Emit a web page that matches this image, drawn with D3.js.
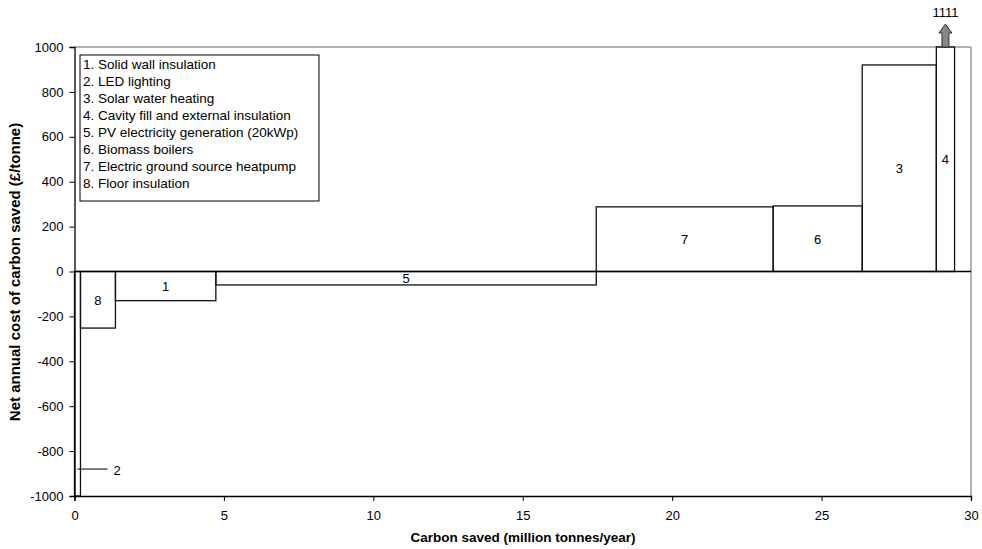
<!DOCTYPE html>
<html><head><meta charset="utf-8">
<script src="https://cdn.jsdelivr.net/npm/d3@7"></script>
<style>body{margin:0;background:#fff;} svg{display:block;font-family:"Liberation Sans",Arial,sans-serif;}</style>
</head><body>
<svg id="c" width="982" height="549"></svg>
<script>
// Measures in order along the x axis
const labels = ["2", "8", "1", "5", "7", "6", "3", "4"];
const widths = [0.2, 1.17, 3.36, 12.73, 5.92, 2.98, 2.48, 0.61]; // million tonnes/year
const costs = [-1000, -252, -130, -60, 288, 292, 920, 1111];     // £/tonne
const legendItems = [
  "1. Solid wall insulation",
  "2. LED lighting",
  "3. Solar water heating",
  "4. Cavity fill and external insulation",
  "5. PV electricity generation (20kWp)",
  "6. Biomass boilers",
  "7. Electric ground source heatpump",
  "8. Floor insulation"
];
const xTicks = [0, 5, 10, 15, 20, 25, 30];
const yTicks = [-1000, -800, -600, -400, -200, 0, 200, 400, 600, 800, 1000];
const label2Y = -880;

const svg = d3.select("#c");
const L = 74.5, R = 971, T = 47, B = 496;
const x = d3.scaleLinear().domain([0, 30]).range([L, R]);
const y = d3.scaleLinear().domain([-1000, 1000]).range([B, T]);

// Plot border (top and right, grey)
svg.append("line").attr("x1", L).attr("x2", R).attr("y1", T).attr("y2", T).attr("stroke", "#999").attr("stroke-width", 1.5);
svg.append("line").attr("x1", R).attr("x2", R).attr("y1", T).attr("y2", B).attr("stroke", "#999").attr("stroke-width", 1.5);

// Bars
let cum = 0;
const bars = labels.map((l, i) => { const b = {label: l, x0: cum, x1: cum + widths[i], v: costs[i]}; cum += widths[i]; return b; });
const clip = v => Math.max(-1000, Math.min(1000, v));
const g = svg.append("g");
bars.forEach(b => {
  const yTop = y(Math.max(0, clip(b.v))), yBot = y(Math.min(0, clip(b.v)));
  g.append("rect").attr("x", x(b.x0)).attr("y", yTop).attr("width", x(b.x1) - x(b.x0)).attr("height", yBot - yTop)
    .attr("fill", "none").attr("stroke", "#111").attr("stroke-width", 1.3);
  if (b.label !== "2") {
    g.append("text").attr("x", (x(b.x0) + x(b.x1)) / 2).attr("y", (yTop + yBot) / 2 + 5)
      .attr("text-anchor", "middle").attr("font-size", 13).text(b.label);
  }
});

// Zero line
svg.append("line").attr("x1", L).attr("x2", R).attr("y1", y(0)).attr("y2", y(0)).attr("stroke", "#000").attr("stroke-width", 1.3);

// Label for 2 with leader
const b2 = bars[0];
svg.append("line").attr("x1", x(b2.x0) + 3).attr("x2", x(b2.x0) + 33).attr("y1", y(label2Y)).attr("y2", y(label2Y)).attr("stroke", "#000").attr("stroke-width", 1);
svg.append("text").attr("x", x(b2.x0) + 39).attr("y", y(label2Y) + 6).attr("font-size", 13).text("2");

// Arrow for bar 4 (off scale)
const b4 = bars[7];
const ax = (x(b4.x0) + x(b4.x1)) / 2;
svg.append("path").attr("d", `M${ax-3.5},${T} L${ax-3.5},${T-14} L${ax-6.5},${T-14} L${ax},${T-23} L${ax+6.5},${T-14} L${ax+3.5},${T-14} L${ax+3.5},${T} Z`)
  .attr("fill", "#888").attr("stroke", "#333").attr("stroke-width", 1);
svg.append("text").attr("x", ax).attr("y", 17).attr("text-anchor", "middle").attr("font-size", 13).text(String(b4.v));

// Axes
const fmt = d => String(d);
const xAxis = svg.append("g").attr("transform", `translate(0,${B})`)
  .call(d3.axisBottom(x).tickValues(xTicks).tickFormat(fmt).tickSize(5).tickPadding(10));
const yAxis = svg.append("g").attr("transform", `translate(${L},0)`)
  .call(d3.axisLeft(y).tickValues(yTicks).tickFormat(fmt).tickSize(5).tickPadding(6));
[xAxis, yAxis].forEach(a => {
  a.select(".domain").attr("stroke", "#000").attr("stroke-width", 1.3);
  a.selectAll(".tick line").attr("stroke", "#000");
  a.selectAll(".tick text").attr("font-size", 13).attr("font-family", "Liberation Sans, Arial, sans-serif").attr("fill", "#000");
});

// Axis titles
svg.append("text").attr("x", 523).attr("y", 542).attr("text-anchor", "middle")
  .attr("font-size", 13.5).attr("font-weight", "bold").text("Carbon saved (million tonnes/year)");
svg.append("text").attr("transform", `translate(20,272) rotate(-90)`).attr("text-anchor", "middle")
  .attr("font-size", 15).attr("font-weight", "bold").text("Net annual cost of carbon saved (£/tonne)");

// Legend
const lg = svg.append("g");
lg.append("rect").attr("x", 80).attr("y", 55).attr("width", 239).attr("height", 146).attr("fill", "#fff").attr("stroke", "#000").attr("stroke-width", 1);
legendItems.forEach((t, i) => {
  lg.append("text").attr("x", 83).attr("y", 69 + i * 17).attr("font-size", 13.5).text(t);
});
</script>
</body></html>
